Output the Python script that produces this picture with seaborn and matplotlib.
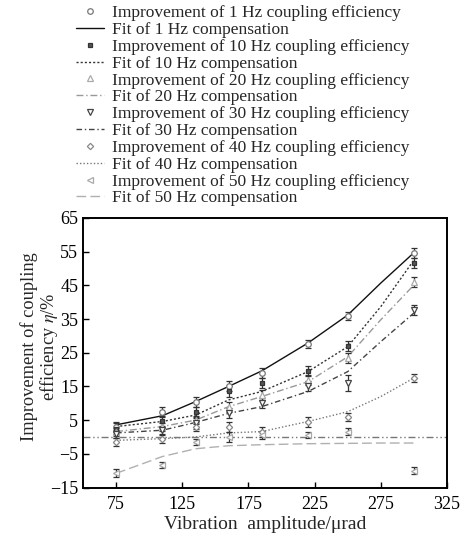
import numpy as np
import matplotlib
matplotlib.use('Agg')
import matplotlib.pyplot as plt
import seaborn as sns

#%% data
amp = [75, 110, 135, 160, 185, 220, 250, 300]
fit_x = [75, 110, 135, 160, 185, 220, 250, 275, 300]

freqs = ['1', '10', '20', '30', '40', '50']

imp_1hz = [3.0, 7.5, 10.5, 15.0, 19.0, 27.5, 36.0, 54.5]
imp_10hz = [2.5, 4.6, 7.5, 13.5, 16.0, 19.5, 27.0, 51.6]
imp_20hz = [1.5, 3.0, 5.0, 9.0, 12.5, 17.0, 23.4, 46.0]
imp_30hz = [1.0, 2.0, 4.0, 7.0, 10.0, 15.0, 16.0, 37.7]
imp_40hz = [-1.5, -0.5, 3.0, 3.0, 1.5, 4.5, 6.0, 17.5]
imp_50hz = [-10.7, -8.3, -1.5, 0.0, 0.5, 0.6, 1.6, -10.0]

err_1hz = [1.5, 1.5, 1.5, 1.5, 1.5, 1.2, 1.2, 1.5]
err_10hz = [1.5, 1.5, 1.5, 1.5, 1.5, 1.5, 1.5, 1.5]
err_20hz = [1.2, 1.2, 1.2, 1.5, 1.5, 1.5, 1.5, 1.5]
err_30hz = [1.2, 1.2, 1.5, 1.5, 1.5, 1.5, 2.5, 1.5]
err_40hz = [1.2, 1.2, 1.2, 1.5, 1.5, 1.5, 1.2, 1.2]
err_50hz = [1.2, 1.0, 1.0, 1.5, 1.2, 1.0, 1.0, 1.0]

fit_1hz = [3.6, 6.3, 10.5, 15.0, 19.6, 27.9, 36.2, 45.7, 54.7]
fit_10hz = [3.1, 4.6, 6.5, 11.0, 13.5, 19.4, 26.8, 38.7, 52.5]
fit_20hz = [1.6, 3.1, 5.0, 9.0, 12.0, 16.4, 23.8, 34.8, 45.1]
fit_30hz = [1.2, 2.0, 4.3, 7.0, 9.0, 13.5, 19.4, 28.3, 36.8]
fit_40hz = [-1.0, -0.5, 0.0, 1.2, 1.6, 4.6, 7.5, 12.0, 17.5]
fit_50hz = [-10.8, -5.8, -3.5, -2.6, -2.3, -2.0, -1.9, -1.8, -1.8]

#%% styles
sns.set_theme(style='ticks')
plt.rcParams['font.family'] = ['Liberation Serif', 'DejaVu Serif']
plt.rcParams['mathtext.fontset'] = 'stix'

imps = [imp_1hz, imp_10hz, imp_20hz, imp_30hz, imp_40hz, imp_50hz]
errs = [err_1hz, err_10hz, err_20hz, err_30hz, err_40hz, err_50hz]
fits = [fit_1hz, fit_10hz, fit_20hz, fit_30hz, fit_40hz, fit_50hz]

markers = ['o', 's', '^', 'v', 'D', '<']
mfc = ['white', '#555555', 'white', 'white', 'white', 'white']
mec = ['#777777', '#333333', '#aaaaaa', '#444444', '#888888', '#aaaaaa']
msz = [4, 3.5, 4, 4, 3.2, 4]
line_col = ['#111111', '#333333', '#999999', '#444444', '#777777', '#b0b0b0']
line_sty = ['-', (0, (1.5, 1.5)), (0, (5, 2, 1, 2)), (0, (4, 2, 1, 2)),
            (0, (1, 1.5)), (0, (7, 3))]

fig = plt.figure(figsize=(4.65, 5.36), dpi=100)
ax = fig.add_axes([83/465, 1-487.5/536, (447-83)/465, (487.5-218)/536])

ax.axhline(0, color='#777777', lw=1.0, ls=(0, (5, 2, 1, 2, 1, 2)), zorder=1)

handles = []
labels = []
for i in range(len(freqs)):
    f = freqs[i]
    eb = ax.errorbar(amp, imps[i], yerr=errs[i], fmt=markers[i], ms=msz[i],
                     mfc=mfc[i], mec=mec[i], mew=0.9, ecolor='#333333',
                     elinewidth=0.9, capsize=2.2, capthick=0.9, zorder=3)
    sns.lineplot(x=fit_x, y=fits[i], ax=ax, color=line_col[i],
                 linestyle=line_sty[i], lw=1.0, zorder=2)
    handles.append(eb[0])
    labels.append('Improvement of %s Hz coupling efficiency' % f)
    handles.append(ax.lines[-1])
    labels.append('Fit of %s Hz compensation' % f)

ax.set_xlim(50, 325)
ax.set_ylim(-15, 65)
ax.set_xticks(np.arange(75, 326, 50))
ax.set_yticks(np.arange(-15, 66, 10))
ax.set_yticklabels([str(v).replace('-', '\u2212') for v in range(-15, 66, 10)])
ax.tick_params(direction='in', length=4, width=1.0, labelsize=13, colors='black')
ax.tick_params(axis='x', pad=6)
for s in ax.spines.values():
    s.set_linewidth(1.4)
    s.set_color('black')

ax.set_xlabel('Vibration  amplitude/\u03bcrad', fontsize=14, labelpad=2)
ax.set_ylabel('Improvement of coupling\nefficiency $\\eta$/%', fontsize=13.2,
              linespacing=1.0)
ax.yaxis.set_label_coords(-0.063, 0.521)

fig.legend(handles, labels, loc='upper left', bbox_to_anchor=(76/465, 1-5/536),
           frameon=False, fontsize=12.5, labelspacing=0.04, handlelength=1.6,
           handletextpad=0.45, borderpad=0.0, borderaxespad=0.0)

fig.savefig('out.png', dpi=100)
